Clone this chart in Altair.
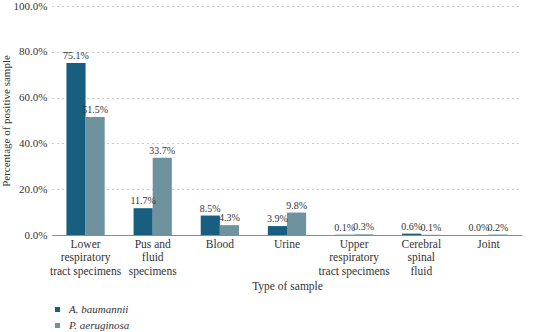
import altair as alt
import pandas as pd

categories = [
    "Lower|respiratory|tract specimens",
    "Pus and|fluid|specimens",
    "Blood",
    "Urine",
    "Upper|respiratory|tract specimens",
    "Cerebral|spinal|fluid",
    "Joint",
]
series = ["A. baumannii", "P. aeruginosa"]
a_baumannii = [75.1, 11.7, 8.5, 3.9, 0.1, 0.6, 0.0]
p_aeruginosa = [51.5, 33.7, 4.3, 9.8, 0.3, 0.1, 0.2]
colors = ["#185E7E", "#6F929F"]

rows = []
for c, a, p in zip(categories, a_baumannii, p_aeruginosa):
    rows.append({"cat": c, "org": series[0], "val": a / 100})
    rows.append({"cat": c, "org": series[1], "val": p / 100})
df = pd.DataFrame(rows)

FONT = "Liberation Serif"

x = alt.X(
    "cat:N",
    sort=categories,
    scale=alt.Scale(range=[0, 470], paddingInner=0.43, paddingOuter=0.215),
    axis=alt.Axis(
        title="Type of sample",
        labelAngle=0,
        labelExpr="split(datum.label, '|')",
        labelFont=FONT,
        labelFontSize=11.5,
        labelColor="#333333",
        labelLineHeight=13.5,
        labelPadding=3,
        ticks=False,
        domainColor="#8c8c8c",
        titleFont=FONT,
        titleFontSize=11.5,
        titleFontWeight="normal",
        titleColor="#333333",
        titlePadding=4,
    ),
)
xo = alt.XOffset("org:N", sort=series, scale=alt.Scale(paddingInner=0, paddingOuter=0))
y = alt.Y(
    "val:Q",
    scale=alt.Scale(domain=[0, 1]),
    axis=alt.Axis(
        title="Percentage of positive sample",
        format=".1%",
        values=[0, 0.2, 0.4, 0.6, 0.8, 1.0],
        labelFont=FONT,
        labelFontSize=11,
        labelColor="#333333",
        labelPadding=5,
        ticks=False,
        domain=False,
        gridDash=[1, 4],
        gridColor="#999999",
        titleFont=FONT,
        titleFontSize=11,
        titleFontWeight="normal",
        titleColor="#333333",
        titlePadding=2,
    ),
)

bars = alt.Chart(df).mark_bar().encode(
    x=x,
    xOffset=xo,
    y=y,
    color=alt.Color(
        "org:N",
        sort=series,
        scale=alt.Scale(domain=series, range=colors),
        legend=alt.Legend(
            title=None,
            orient="none",
            legendX=0,
            legendY=298,
            direction="vertical",
            symbolType="square",
            symbolSize=25,
            symbolStrokeWidth=0,
            symbolOffset=0,
            labelFont=FONT,
            labelFontSize=11,
            labelFontStyle="italic",
            labelColor="#333333",
            labelOffset=6,
            rowPadding=4,
        ),
    ),
)

labels = alt.Chart(df).mark_text(
    baseline="bottom", dy=-2, font=FONT, fontSize=10, color="#333333"
).encode(
    x=alt.X("cat:N", sort=categories),
    xOffset=alt.XOffset("org:N", sort=series),
    y="val:Q",
    text=alt.Text("val:Q", format=".1%"),
)

chart = (
    alt.layer(bars, labels)
    .properties(
        width=494,
        height=229,
        padding={"left": 0, "top": 0, "right": 0, "bottom": 0},
        background="white",
    )
    .configure_view(stroke=None)
)

chart.save("out.html", embed_options={"renderer": "svg", "actions": False})
